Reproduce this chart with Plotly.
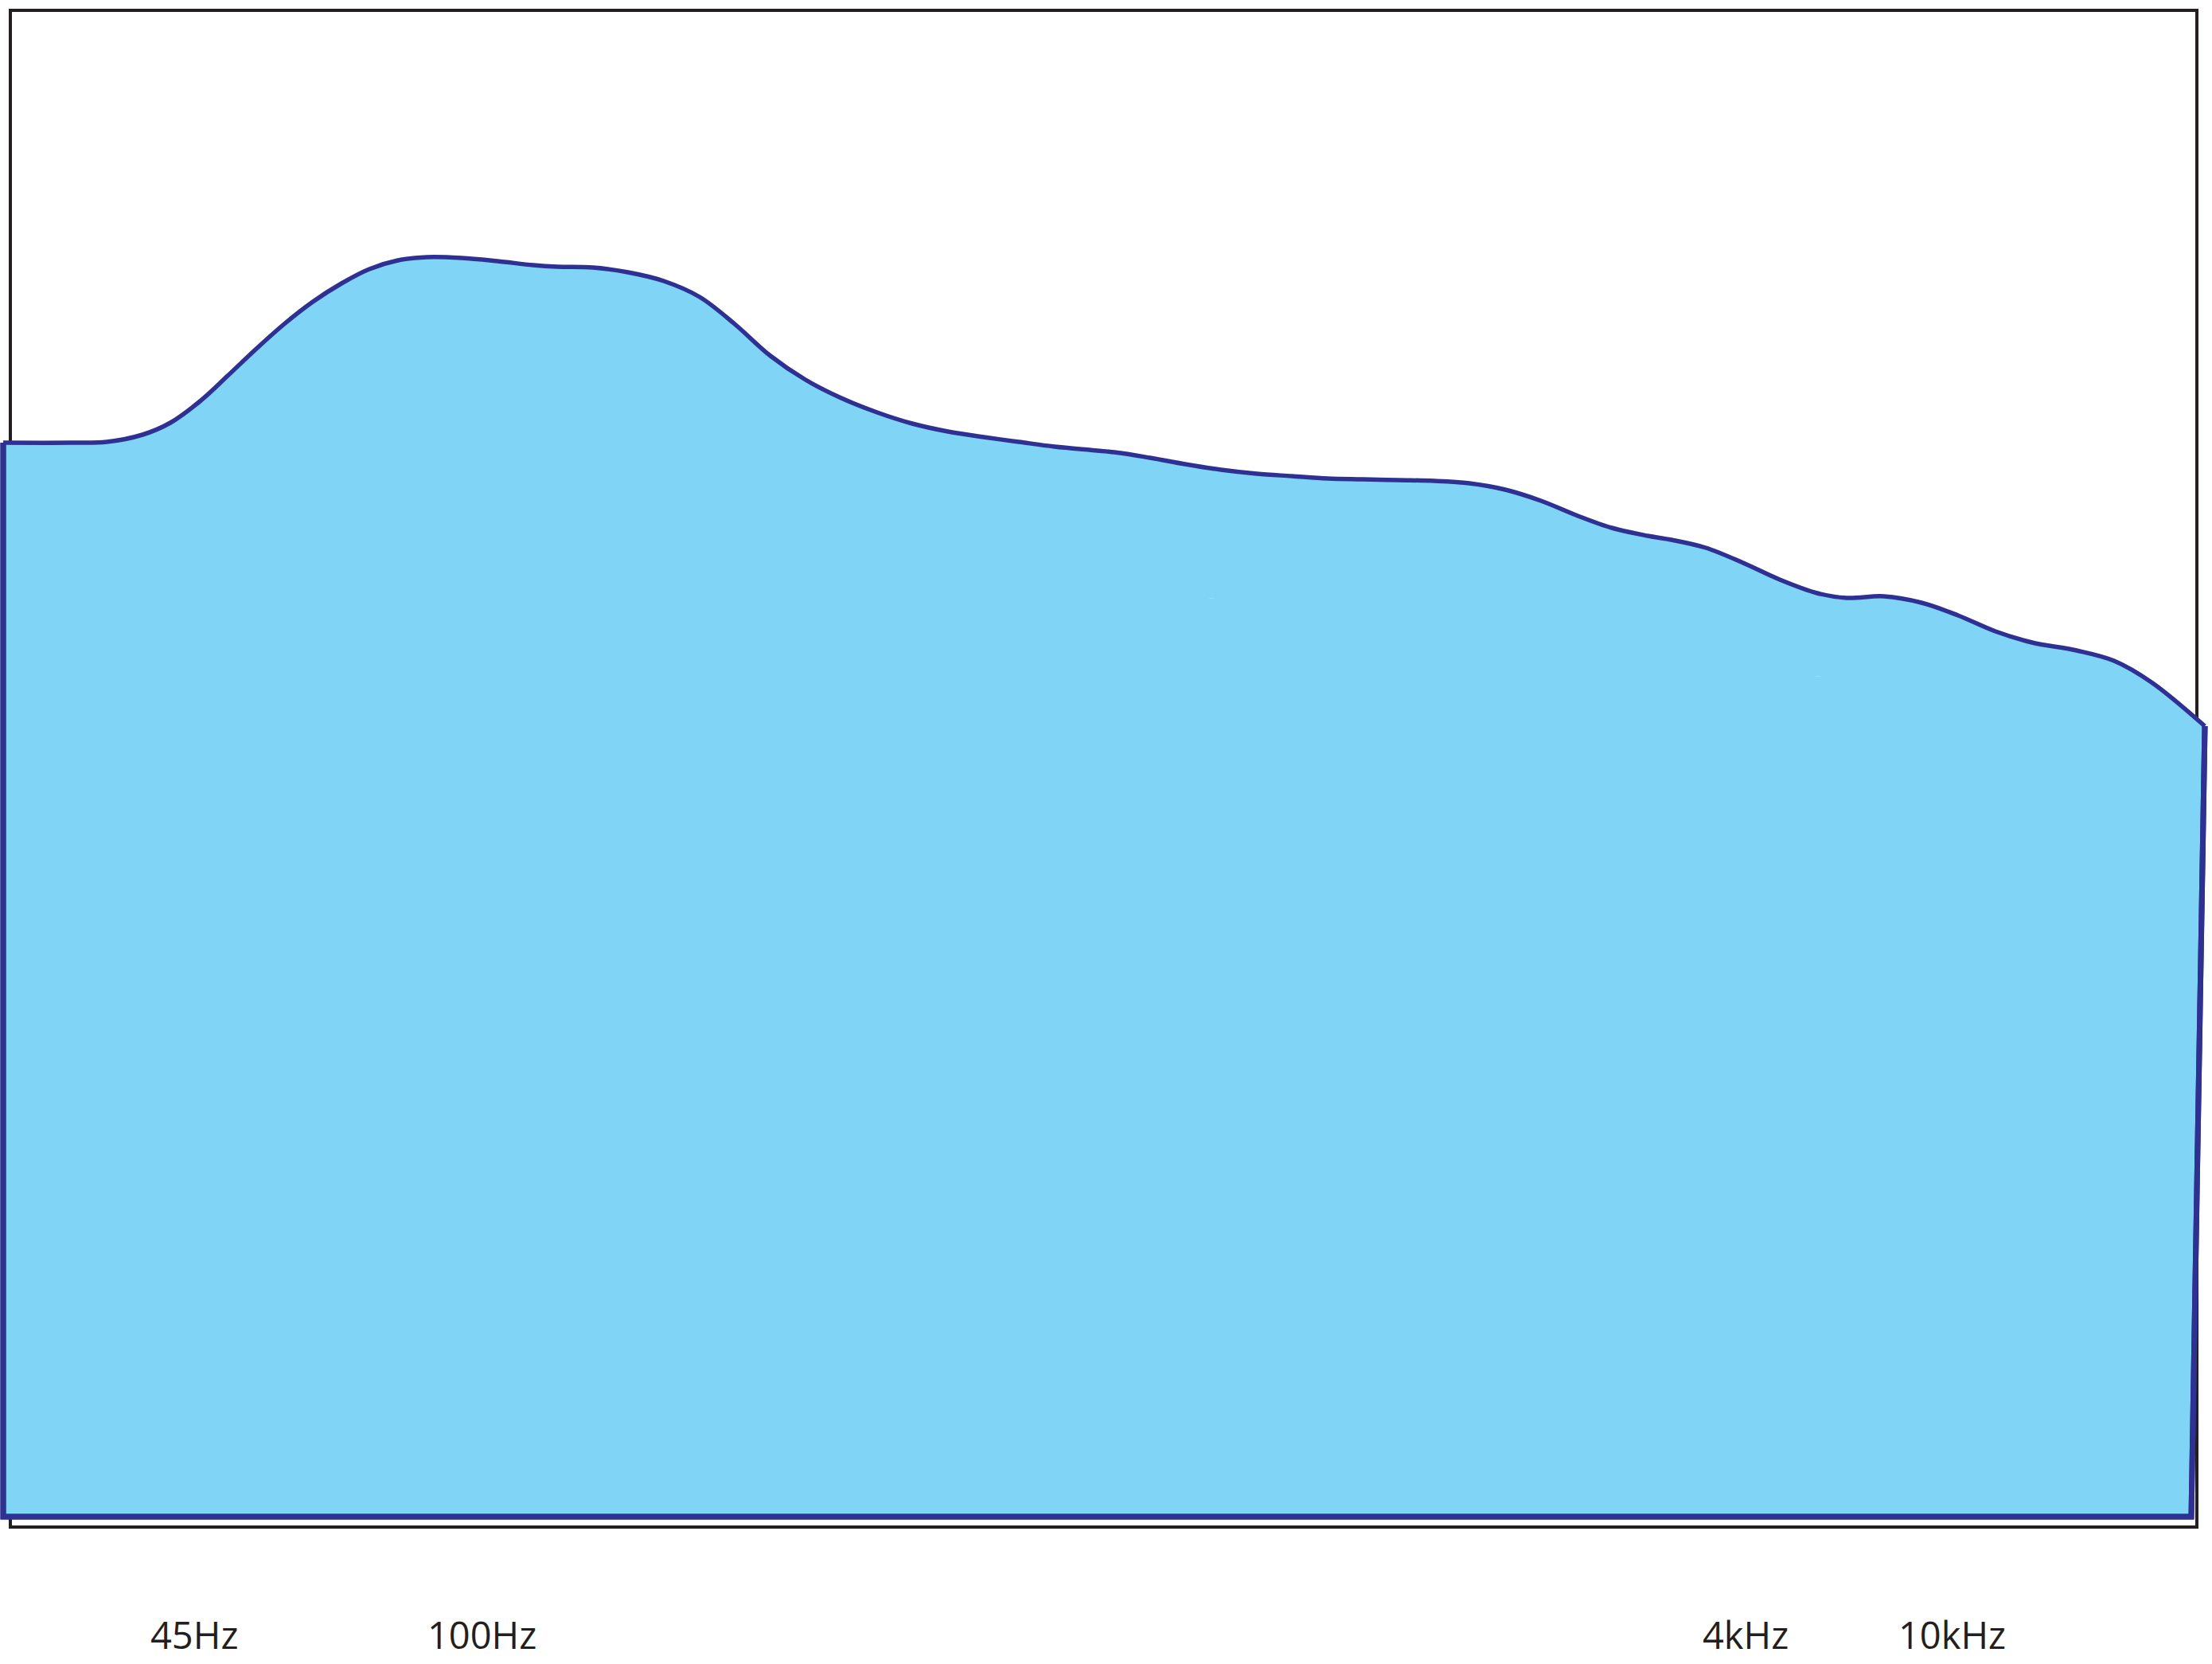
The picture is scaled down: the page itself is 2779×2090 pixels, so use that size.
import plotly.graph_objects as go

# Response curve: horizontal position along the chart and relative level
curve_pos = [4, 89, 134, 179, 214, 250, 286, 321, 357, 393, 429, 464, 500, 536, 580,
             625, 670, 700, 745, 789, 834, 879, 923, 968, 1012, 1057, 1102, 1146, 1191,
             1236, 1280, 1325, 1400, 1445, 1489, 1534, 1579, 1623, 1668, 1712, 1757,
             1802, 1846, 1891, 1936, 1980, 2025, 2070, 2100, 2143, 2190, 2236, 2283,
             2320, 2367, 2414, 2460, 2507, 2553, 2609, 2656, 2703, 2770]
curve_level = [134.9, 134.9, 135.0, 135.9, 137.4, 140.0, 143.3, 146.6, 149.8, 152.6,
               154.9, 156.7, 157.8, 158.2, 158.1, 157.7, 157.2, 157.0, 156.9, 156.3,
               155.2, 153.2, 149.8, 145.8, 142.8, 140.5, 138.7, 137.3, 136.3, 135.6,
               135.0, 134.4, 133.7, 133.0, 132.2, 131.5, 131.0, 130.7, 130.4, 130.3,
               130.2, 130.1, 129.8, 129.0, 127.6, 125.8, 124.2, 123.2, 122.7, 121.7,
               119.8, 117.7, 116.0, 115.4, 115.6, 114.8, 113.2, 111.2, 109.8, 108.8,
               107.5, 104.8, 99.3]

# Outline of the area's left, bottom and right edges
edge_pos = [2770, 2753, 4, 4]
edge_level = [99.3, 0.0, 0.0, 134.9]

# Frequency labels
tick_pos = [244, 605, 2193, 2452]
tick_text = ["45Hz", "100Hz", "4kHz", "10kHz"]
label_level = -14.8

# Frame box
frame_x = [13, 2760]
frame_y = [-1.3, 189.2]

FILL = "#80D4F6"
LINE = "#2E3192"
INK = "#231F20"

fig = go.Figure()

# base trace (outline) used as the lower boundary for the fill
fig.add_trace(go.Scatter(x=edge_pos, y=edge_level, mode="lines",
                         line=dict(color=LINE, width=7), hoverinfo="skip"))
# curve with fill to the previous trace
fig.add_trace(go.Scatter(x=curve_pos, y=curve_level, mode="lines",
                         line=dict(color=LINE, width=5.5, shape="spline"),
                         fill="tonexty", fillcolor=FILL, hoverinfo="skip"))
# outline redrawn on top
fig.add_trace(go.Scatter(x=edge_pos, y=edge_level, mode="lines",
                         line=dict(color=LINE, width=7), hoverinfo="skip"))

fig.add_shape(type="rect", xref="x", yref="y",
              x0=frame_x[0], x1=frame_x[1], y0=frame_y[0], y1=frame_y[1],
              line=dict(color=INK, width=4), fillcolor="rgba(0,0,0,0)", layer="below")

for p, t in zip(tick_pos, tick_text):
    fig.add_annotation(x=p, y=label_level, xref="x", yref="y", text=t,
                       showarrow=False, xanchor="center", yanchor="middle",
                       font=dict(family="Open Sans", size=47, color=INK))

fig.update_layout(
    width=2779, height=2090, autosize=False,
    margin=dict(l=0, r=0, t=0, b=0, pad=0),
    paper_bgcolor="white", plot_bgcolor="white",
    showlegend=False,
    xaxis=dict(range=[0, 2779], visible=False, fixedrange=True),
    yaxis=dict(range=[-18.5, 190.5], visible=False, fixedrange=True),
)

fig.write_html("out.html",
               config={"displayModeBar": False},
               post_script="document.body.style.margin='0';document.body.style.overflow='hidden';")
